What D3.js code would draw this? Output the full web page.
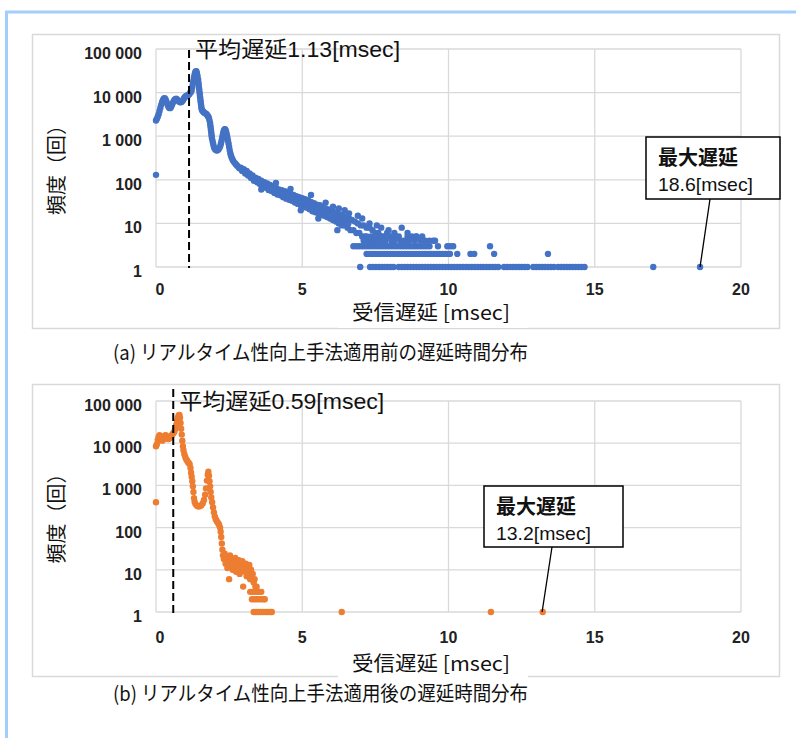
<!DOCTYPE html>
<html>
<head>
<meta charset="utf-8">
<script src="https://cdn.jsdelivr.net/npm/d3@7"></script>
<style>
body { margin: 0; background: #fff; }
svg { display: block; }
</style>
</head>
<body>
<svg id="chart" width="796" height="738"></svg>
<script>
// Axis ticks
var xTicks = [0, 5, 10, 15, 20];
var yTicks = [1, 10, 100, 1000, 10000, 100000];
var yTickLabels = ["1", "10", "100", "1 000", "10 000", "100 000"];

// (a) before: [delay msec, count]
var beforeCurve = [[0.00,2300],[0.03,2500],[0.06,2800],[0.09,3200],[0.12,3800],[0.15,4500],[0.18,5300],[0.21,6100],[0.24,6800],[0.27,7300],[0.30,7400],[0.33,7000],[0.36,6200],[0.39,5400],[0.42,4800],[0.45,4500],[0.48,4400],[0.51,4600],[0.54,5100],[0.57,5700],[0.60,6300],[0.63,6800],[0.66,7100],[0.69,7200],[0.72,7000],[0.75,6600],[0.78,6300],[0.81,6100],[0.84,6000],[0.87,6100],[0.90,6400],[0.93,6900],[0.96,7400],[0.99,7900],[1.02,8300],[1.05,8500],[1.08,8600],[1.11,8800],[1.14,9300],[1.17,9900],[1.20,10500],[1.22,11500],[1.24,13500],[1.26,16000],[1.28,19000],[1.30,22500],[1.32,26000],[1.34,29000],[1.36,30500],[1.38,31000],[1.40,28000],[1.42,24000],[1.44,20000],[1.45,17000],[1.46,15000],[1.47,13000],[1.48,11500],[1.49,10000],[1.50,8800],[1.51,7700],[1.52,6800],[1.53,6000],[1.54,5300],[1.55,4700],[1.56,4200],[1.58,3900],[1.61,3700],[1.64,3500],[1.67,3400],[1.70,3300],[1.73,3200],[1.76,3000],[1.79,2800],[1.81,2600],[1.83,2300],[1.85,2000],[1.86,1750],[1.87,1550],[1.88,1350],[1.89,1200],[1.90,1050],[1.91,920],[1.93,800],[1.95,690],[1.97,600],[1.99,540],[2.02,500],[2.05,480],[2.08,470],[2.11,480],[2.14,500],[2.17,540],[2.20,600],[2.22,680],[2.24,780],[2.26,900],[2.28,1050],[2.30,1200],[2.32,1330],[2.34,1420],[2.36,1450],[2.38,1380],[2.40,1250],[2.42,1100],[2.44,950],[2.46,800],[2.48,680],[2.50,570],[2.52,480],[2.54,410],[2.56,360],[2.59,320],[2.62,290],[2.65,265],[2.69,245],[2.73,228],[2.77,212],[2.81,198],[2.85,185],
  [2.90,190],[2.95,160],[3.00,175],[3.05,140],[3.10,160],[3.15,125],[3.20,140],[3.25,110],[3.30,125],[3.35,95],[3.40,112],[3.45,88],[3.50,104],[3.55,80],[3.60,95],[3.65,72],[3.70,88],[3.75,66],[3.80,82],[3.85,58],[3.90,76],[3.95,55],[4.00,70],[4.05,50],[4.10,66],[4.15,46],[4.20,60],[4.25,44],[4.30,58],[4.35,40],[4.40,55],[4.45,37],[4.50,52],[4.55,35],[4.60,48],[4.65,33],[4.70,45],[4.75,30],[4.80,42],[4.85,28],[4.90,40],[4.95,26],[5.00,38],[5.05,25],[5.10,36],[5.15,23],[5.20,34],[5.25,21],[5.30,31],[5.35,19],[5.40,29],[5.45,18],[5.50,27],[5.55,17],[5.60,26],[5.65,16],[5.70,24],[5.75,15],[5.80,22],[5.85,14],[5.90,21],[5.95,13],[6.00,20],[6.05,12],[6.10,18],[6.15,11],[6.20,17],[6.25,10],[6.30,16],[6.35,9],[6.40,15],[6.45,9],[6.50,14],[6.55,8],[6.60,13],[6.65,7],[6.70,12],[6.75,7],[6.80,11],[6.85,6],[6.90,10],[6.95,6],[7.00,9],[7.05,5],[7.10,9],[7.15,5],[7.20,8],[7.25,4],[7.30,8],[7.35,4],[7.40,7],[7.45,4],[7.50,6],[7.60,6],[7.70,5],[7.80,5],[7.90,6],[8.00,5],[8.20,5],
  [3.60,60],[4.10,85],[4.60,62],[4.95,20],[5.30,45],[5.55,13],[5.80,30],[6.05,24],[6.20,7],[6.25,22],[6.45,20],[6.60,17],[6.90,15],[7.05,13],[7.30,10],[7.55,9],[7.70,8],[7.95,7],[8.15,6],[8.40,8],[8.60,6],[8.75,5],[8.90,5],[9.10,5],[9.48,4]];
// middle of the scattered band
var beforeBandMid = [[2.925,170],[2.975,168],[3.025,155],[3.075,150],[3.125,140],[3.175,132],[3.225,125],[3.275,117],[3.325,108],[3.375,103],[3.425,98],[3.475,95],[3.525,90],[3.575,87],[3.625,82],[3.675,79],[3.725,76],[3.775,73],[3.825,70],[3.875,66],[3.925,64],[3.975,62],[4.025,60],[4.075,57],[4.125,55],[4.175,53],[4.225,51],[4.275,50],[4.325,48],[4.375,47],[4.425,45],[4.475,44],[4.525,43],[4.575,41],[4.625,40],[4.675,39],[4.725,37],[4.775,36],[4.825,35],[4.875,34],[4.925,33],[4.975,32],[5.025,31],[5.075,30],[5.125,29],[5.175,28],[5.225,27],[5.275,26],[5.325,25],[5.375,24],[5.425,23],[5.475,22],[5.525,21],[5.575,21],[5.625,20],[5.675,19],[5.725,19],[5.775,18],[5.825,17],[5.875,17],[5.925,16],[5.975,16],[6.025,15],[6.075,15],[6.125,14],[6.175,14],[6.225,13],[6.275,13],[6.325,12],[6.375,12],[6.425,11],[6.475,11],[6.525,10],[6.575,10]];
var beforeZero = [[0.00,130]];
var beforeFives = [7.20,7.35,7.50,7.70,7.90,8.10,8.30,8.60,8.90];
var beforeFours = [7.10,7.25,7.45,7.55,7.65,7.75,7.85,8.05,8.15,8.35,8.45,8.55,8.65,8.85,9.05,9.20,9.35,9.54];
var beforeThrees = [6.75,6.85,6.95,7.05,7.15,7.25,7.35,7.45,7.55,7.65,7.75,7.85,7.95,8.05,8.15,8.25,8.35,8.45,8.55,8.65,8.75,8.85,8.95,9.05,9.15,9.25,9.35,9.64,9.96,10.06,10.16,11.42];
var beforeTwos = [7.20,7.30,7.40,7.50,7.60,7.70,7.80,7.90,8.00,8.10,8.20,8.30,8.40,8.50,8.60,8.70,8.80,8.90,9.00,9.10,9.20,9.30,9.40,9.50,9.60,9.70,9.80,9.90,10.00,10.05,10.30,10.75,10.88,11.56,13.40];
var beforeOnes = [6.98,7.32,7.42,7.52,7.62,7.72,7.82,7.92,8.02,8.12,8.30,8.40,8.50,8.60,8.70,8.80,8.90,9.00,9.10,9.20,9.30,9.40,9.50,9.60,9.70,9.80,9.90,10.00,10.10,10.20,10.30,10.40,10.50,10.60,10.70,10.80,10.90,11.00,11.10,11.20,11.30,11.40,11.50,11.60,11.70,11.90,12.00,12.10,12.20,12.30,12.40,12.50,12.60,12.70,12.90,13.00,13.10,13.20,13.30,13.40,13.50,13.60,13.75,13.85,13.95,14.05,14.15,14.25,14.35,14.45,14.55,14.65,17.00,18.60];

// (b) after
var afterCurve = [[0.00,8500],[0.03,9500],[0.06,12000],[0.09,14000],[0.12,15500],[0.15,14000],[0.18,12500],[0.21,11500],[0.24,12000],[0.27,13500],[0.30,15000],[0.33,15500],[0.36,14500],[0.39,13000],[0.42,12500],[0.45,13000],[0.48,13500],[0.51,14500],[0.54,15500],[0.57,16500],[0.60,17500],[0.63,19000],[0.66,22000],[0.69,27000],[0.72,34000],[0.75,41000],[0.78,46000],[0.80,47000],[0.82,40000],[0.84,30000],[0.86,22000],[0.88,16000],[0.90,11500],[0.92,8500],[0.94,6800],[0.97,5500],[1.00,4700],[1.03,4200],[1.06,3900],[1.09,3600],[1.12,3400],[1.15,3200],[1.18,2600],[1.20,2000],[1.22,1600],[1.24,1250],[1.26,950],[1.28,700],[1.30,500],[1.32,410],[1.35,360],[1.40,330],[1.45,315],[1.50,320],[1.55,340],[1.60,380],[1.64,450],[1.68,600],[1.71,850],[1.74,1300],[1.77,1800],[1.79,2100],[1.81,1700],[1.83,1250],[1.85,950],[1.87,700],[1.89,520],[1.92,400],[1.95,300],[1.98,230],[2.01,185],[2.04,160],[2.07,145],[2.10,135],[2.13,125],[2.16,115],[2.19,100],[2.21,80],[2.23,60],[2.25,42],[2.27,30],[2.29,22],
  [2.32,18],[2.35,24],[2.38,14],[2.41,20],[2.44,11],[2.47,17],[2.50,6],[2.53,22],[2.56,13],[2.59,18],[2.62,10],[2.65,16],[2.68,12],[2.71,19],[2.74,9],[2.77,15],[2.80,11],[2.83,17],[2.86,8],[2.89,14],[2.92,10],[2.95,16],[2.98,4],[3.01,12],[3.04,9],[3.07,14],[3.10,7],[3.13,11],[3.16,8],[3.19,13],[3.22,6],[3.25,10],[3.28,6],[3.31,8],[3.34,5],[3.37,6],[3.40,4],[3.44,4]];
var afterZero = [[0.00,400]];
var afterThrees = [3.22,3.30,3.38,3.46,3.54,3.60];
var afterTwos = [3.28,3.36,3.44,3.52,3.60,3.68,3.72];
var afterOnes = [3.34,3.42,3.50,3.58,3.66,3.74,3.82,3.90,3.96,6.35,11.45,13.22];

var means = [1.13, 0.59];
var maxDelays = [18.6, 13.2];
var captions = ["(a) リアルタイム性向上手法適用前の遅延時間分布", "(b) リアルタイム性向上手法適用後の遅延時間分布"];

function withCount(xs, c) { return xs.map(function(x) { return [x, c]; }); }

var panels = [
  { points: beforeCurve.concat(beforeBandMid, beforeZero, withCount(beforeFives, 5), withCount(beforeFours, 4),
        withCount(beforeThrees, 3), withCount(beforeTwos, 2), withCount(beforeOnes, 1)),
    color: "#4472C4", mean: means[0], max: maxDelays[0], caption: captions[0],
    top: 49, bottom: 267, frameTop: 34, frameBottom: 328, tickDy: 28, titleY: 320, capY: 360,
    meanExt: -1, box: {x: 646, y: 137, w: 134, h: 62, lx: 64} },
  { points: afterCurve.concat(afterZero, withCount(afterThrees, 3), withCount(afterTwos, 2), withCount(afterOnes, 1)),
    color: "#ED7D31", mean: means[1], max: maxDelays[1], caption: captions[1],
    top: 401, bottom: 612, frameTop: 384, frameBottom: 676, tickDy: 31, titleY: 671, capY: 701,
    meanExt: 12, box: {x: 484, y: 486, w: 139, h: 61, lx: 68} }
];

var svg = d3.select("#chart");
var font = "'Liberation Sans', Arial, 'Noto Sans CJK JP', sans-serif";
var jpFont = "'Noto Sans CJK JP', sans-serif";

// outer light blue border
svg.append("path")
    .attr("d", "M6.5,738 V12 H796")
    .attr("fill", "none")
    .attr("stroke", "#a3cdfb")
    .attr("stroke-width", 3);

var x = d3.scaleLinear().domain([0, 20]).range([156, 741]);

panels.forEach(function(p) {
    var y = d3.scaleLog().domain([1, 100000]).range([p.bottom, p.top]);
    var g = svg.append("g");

    g.append("rect")
        .attr("x", 32.5).attr("y", p.frameTop + 0.5)
        .attr("width", 747).attr("height", p.frameBottom - p.frameTop)
        .attr("fill", "#fff").attr("stroke", "#d9d9d9").attr("stroke-width", 1.5);

    // grid
    g.selectAll(".hg").data(yTicks).enter().append("line")
        .attr("x1", x(0)).attr("x2", x(20))
        .attr("y1", function(d) { return y(d); }).attr("y2", function(d) { return y(d); })
        .attr("stroke", "#d9d9d9").attr("stroke-width", 1.3);
    g.selectAll(".vg").data(xTicks).enter().append("line")
        .attr("x1", function(d) { return x(d); }).attr("x2", function(d) { return x(d); })
        .attr("y1", p.top).attr("y2", p.bottom)
        .attr("stroke", "#d9d9d9").attr("stroke-width", 1.3);

    // tick labels
    g.selectAll(".yl").data(yTicks).enter().append("text")
        .attr("x", 142).attr("y", function(d) { return y(d) + 10; })
        .attr("text-anchor", "end")
        .style("font-family", font).style("font-size", "16px").style("font-weight", "bold")
        .attr("fill", "#222")
        .text(function(d, i) { return yTickLabels[i]; });
    g.selectAll(".xl").data(xTicks).enter().append("text")
        .attr("x", function(d) { return x(d) + (d === 0 ? 4 : 0); }).attr("y", p.bottom + p.tickDy)
        .attr("text-anchor", "middle")
        .style("font-family", font).style("font-size", "16px").style("font-weight", "bold")
        .attr("fill", "#222")
        .text(function(d) { return d; });

    // axis titles
    g.append("rect")
        .attr("x", 338).attr("y", p.titleY - 22).attr("width", 190).attr("height", 30)
        .attr("fill", "#fff");
    g.append("text")
        .attr("x", 352).attr("y", p.titleY)
        .attr("textLength", 158).attr("lengthAdjust", "spacingAndGlyphs")
        .style("font-family", jpFont).style("font-size", "20px").attr("fill", "#111")
        .text("受信遅延 [msec]");
    g.append("text")
        .attr("transform", "translate(57," + ((p.top + p.bottom) / 2 + 7) + ") rotate(-90)")
        .attr("text-anchor", "middle").attr("dy", "0.35em")
        .style("font-family", jpFont).style("font-size", "20px").attr("fill", "#111")
        .text("頻度（回）");

    // points
    g.selectAll("circle").data(p.points).enter().append("circle")
        .attr("cx", function(d) { return x(d[0]); })
        .attr("cy", function(d) { return y(d[1]); })
        .attr("r", 3.2)
        .attr("fill", p.color);

    // mean line
    g.append("line")
        .attr("x1", x(p.mean)).attr("x2", x(p.mean))
        .attr("y1", p.top - p.meanExt).attr("y2", p.bottom + 1)
        .attr("stroke", "#000").attr("stroke-width", 2)
        .attr("stroke-dasharray", "8,4");
    g.append("text")
        .attr("x", x(p.mean) + 6).attr("y", p.top + 8)
        .attr("textLength", 205).attr("lengthAdjust", "spacingAndGlyphs")
        .style("font-family", font).style("font-size", "22px").attr("fill", "#111")
        .text("平均遅延" + p.mean.toFixed(2) + "[msec]");

    // max annotation
    var b = p.box;
    g.append("line")
        .attr("x1", b.x + b.lx).attr("y1", b.y + b.h)
        .attr("x2", x(p.max)).attr("y2", y(1))
        .attr("stroke", "#000").attr("stroke-width", 1.3);
    g.append("rect")
        .attr("x", b.x).attr("y", b.y).attr("width", b.w).attr("height", b.h)
        .attr("fill", "#fff").attr("stroke", "#000").attr("stroke-width", 1.5);
    g.append("text")
        .attr("x", b.x + 12).attr("y", b.y + 28)
        .style("font-family", jpFont).style("font-size", "20px").style("font-weight", "bold")
        .attr("fill", "#111")
        .text("最大遅延");
    g.append("text")
        .attr("x", b.x + 12).attr("y", b.y + 54)
        .attr("textLength", 95).attr("lengthAdjust", "spacingAndGlyphs")
        .style("font-family", font).style("font-size", "19px").attr("fill", "#111")
        .text(p.max.toFixed(1) + "[msec]");

    // caption
    svg.append("text")
        .attr("x", 113).attr("y", p.capY)
        .attr("textLength", 415).attr("lengthAdjust", "spacingAndGlyphs")
        .style("font-family", jpFont).style("font-size", "20px").attr("fill", "#111")
        .text(p.caption);
});
</script>
</body>
</html>
